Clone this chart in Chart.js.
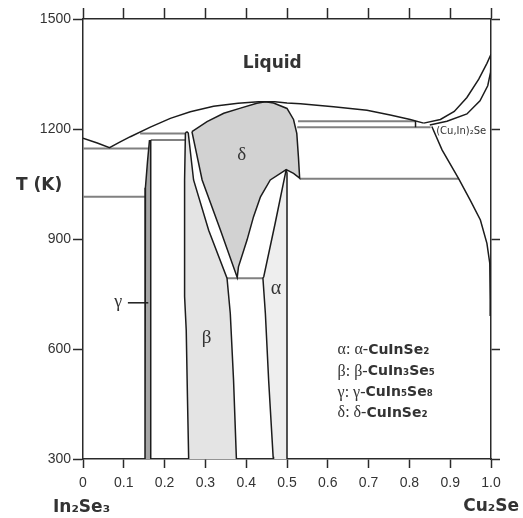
<!DOCTYPE html>
<html>
<head>
<meta charset="utf-8">
<title>In2Se3 - Cu2Se</title>
<script src="https://cdn.jsdelivr.net/npm/chart.js@4.4.1/dist/chart.umd.min.js"></script>
<style>
  html, body { margin: 0; padding: 0; background: #fff; }
</style>
</head>
<body>
<canvas id="phase" width="523" height="518"></canvas>
<script>
(function () {
    "use strict";

    // x = mole fraction Cu2Se, T in K
    var xTickLabels = ['0', '0.1', '0.2', '0.3', '0.4', '0.5', '0.6', '0.7', '0.8', '0.9', '1.0'];
    var yTickLabels = ['300', '600', '900', '1200', '1500'];

    // Liquidus from In2Se3 to the minimum near Cu2Se
    var liquidus = [[0, 1175], [0.035, 1162], [0.065, 1149], [0.09, 1164], [0.116, 1179], [0.165, 1205], [0.214, 1229],
        [0.263, 1247], [0.32, 1262], [0.38, 1270], [0.43, 1274], [0.47, 1274], [0.5, 1271], [0.533, 1269],
        [0.614, 1261], [0.696, 1251], [0.753, 1238], [0.802, 1226], [0.835, 1216]];
    var liquidusCu2Se = [[0.835, 1216], [0.876, 1226], [0.91, 1248], [0.941, 1286], [0.97, 1336], [0.99, 1379], [1.0, 1404]];
    var solidusCu2Se = [[0.85, 1211], [0.892, 1221], [0.941, 1241], [0.973, 1277], [0.992, 1318], [0.999, 1355], [1.0, 1404]];
    var solvusCu2Se = [[0.855, 1207], [0.88, 1143], [0.921, 1064], [0.949, 1006], [0.974, 952], [0.99, 888],
        [0.997, 834], [0.998, 734], [0.998, 690]];

    // delta: top edge, right edge and notch down to the alpha peak
    var deltaTop = [[0.267, 1193], [0.304, 1220], [0.345, 1243], [0.386, 1257], [0.426, 1270], [0.447, 1274],
        [0.467, 1271], [0.5, 1256], [0.516, 1226], [0.524, 1188], [0.528, 1124], [0.531, 1066], [0.516, 1079], [0.498, 1089]];
    var deltaRight = [[0.498, 1089], [0.459, 1061], [0.435, 1015], [0.418, 961], [0.402, 897], [0.381, 824], [0.378, 795]];
    var deltaLeft = [[0.378, 795], [0.337, 924], [0.292, 1061], [0.267, 1193]];

    var betaLeft = [[0.254, 1193], [0.251, 1188], [0.249, 1060], [0.249, 743], [0.253, 652], [0.256, 470], [0.259, 300]];
    var betaRight = [[0.254, 1193], [0.258, 1189], [0.271, 1061], [0.308, 924], [0.353, 793], [0.361, 697], [0.369, 515], [0.376, 300]];
    var alphaLeft = [[0.498, 1089], [0.471, 943], [0.443, 797], [0.441, 793], [0.447, 697], [0.455, 515], [0.466, 306], [0.467, 300]];
    var alphaRight = [[0.498, 1089], [0.5, 1080], [0.5, 300]];
    var gammaLeft = [[0.163, 1170], [0.158, 1110], [0.153, 1040], [0.152, 300]];
    var gammaRight = [[0.166, 1170], [0.166, 300]];

    // invariant (horizontal) lines
    var tieLines = [
        [[0.14, 1188], [0.251, 1188]],
        [[0.166, 1170], [0.251, 1170]],
        [[0, 1147], [0.163, 1147]],
        [[0, 1015], [0.153, 1015]],
        [[0.353, 793], [0.441, 793]],
        [[0.527, 1221], [0.815, 1221]],
        [[0.525, 1205], [0.852, 1205]],
        [[0.531, 1064], [0.921, 1064]]
    ];
    var peritecticMark = [[0.815, 1222], [0.815, 1205]];
    var gammaPointer = [[0.11, 726], [0.16, 726]];

    var lineColor = '#1c1c1c';
    var tieColor = '#808080';
    var textColor = '#333';

    function toXY(arr) {
        return arr.map(function (p) { return {x: p[0], y: p[1]}; });
    }

    // ring starting at the leftmost vertex, ending on the rightmost one,
    // so the filler's x-clip covers the whole shape
    function shapeData(poly) {
        var iMin = 0, iMax = 0;
        poly.forEach(function (p, i) {
            if (p[0] < poly[iMin][0]) iMin = i;
            if (p[0] > poly[iMax][0]) iMax = i;
        });
        var ring = poly.slice(iMin).concat(poly.slice(0, iMin + 1));
        ring.push(poly[iMax]);
        return toXY(ring);
    }

    function region(poly, color) {
        return {
            data: shapeData(poly),
            fill: 'shape',
            backgroundColor: color,
            borderWidth: 0,
            pointRadius: 0,
            tension: 0,
            order: 3
        };
    }

    function curve(arr, color, width, order) {
        return {
            data: toXY(arr),
            fill: false,
            borderColor: color,
            borderWidth: width,
            pointRadius: 0,
            tension: 0,
            order: order
        };
    }

    var deltaShape = deltaTop.concat(deltaRight.slice(1), deltaLeft.slice(1, -1));
    var betaShape = betaLeft.concat(betaRight.slice(1).reverse());
    var alphaShape = alphaLeft.concat(alphaRight.slice(1).reverse());
    var gammaShape = gammaLeft.concat(gammaRight.slice().reverse());

    var datasets = [
        region(deltaShape, '#d2d2d2'),
        region(betaShape, '#e4e4e4'),
        region(alphaShape, '#eeeeee'),
        region(gammaShape, '#a6a6a6')
    ];
    tieLines.forEach(function (seg) {
        datasets.push(curve(seg, tieColor, 2, 2));
    });
    [liquidus, liquidusCu2Se, solidusCu2Se, solvusCu2Se, deltaShape.concat([deltaShape[0]]),
        betaLeft, betaRight, alphaLeft, alphaRight, gammaLeft, gammaRight, peritecticMark, gammaPointer
    ].forEach(function (arr) {
        datasets.push(curve(arr, lineColor, 1.5, 1));
    });

    // text labels, placed in data units
    var phaseLabels = [
        {text: 'Liquid', x: 0.464, y: 1378, font: 'bold 17px "DejaVu Sans"'},
        {text: 'δ', x: 0.389, y: 1129, font: '19px "Liberation Serif"'},
        {text: 'β', x: 0.303, y: 630, font: '19px "Liberation Serif"'},
        {text: 'α', x: 0.473, y: 764, font: '20px "Liberation Serif"'},
        {text: 'γ', x: 0.0865, y: 728, font: '18px "Liberation Serif"'},
        {text: '(Cu,In)₂Se', x: 0.927, y: 1194, font: '10px "DejaVu Sans"'}
    ];
    var legendRows = [
        ['α: α-', 'CuInSe₂', 597],
        ['β: β-', 'CuIn₃Se₅', 538],
        ['γ: γ-', 'CuIn₅Se₈', 481],
        ['δ: δ-', 'CuInSe₂', 425]
    ];

    var textPlugin = {
        id: 'phaseText',
        afterDatasetsDraw: function (chart) {
            var ctx = chart.ctx;
            var xs = chart.scales.x, ys = chart.scales.y;
            ctx.save();
            ctx.fillStyle = textColor;
            ctx.textAlign = 'center';
            ctx.textBaseline = 'middle';
            phaseLabels.forEach(function (l) {
                ctx.font = l.font;
                ctx.fillText(l.text, xs.getPixelForValue(l.x), ys.getPixelForValue(l.y));
            });

            // legend
            ctx.textAlign = 'left';
            legendRows.forEach(function (row) {
                var px = xs.getPixelForValue(0.624), py = ys.getPixelForValue(row[2]);
                ctx.font = '16px "Liberation Serif"';
                ctx.fillText(row[0], px, py);
                px += ctx.measureText(row[0]).width;
                ctx.font = 'bold 14px "DejaVu Sans"';
                ctx.fillText(row[1], px, py);
            });

            // axis titles
            ctx.textBaseline = 'alphabetic';
            ctx.font = 'bold 17px "DejaVu Sans"';
            ctx.fillText('T (K)', 16, 190);
            ctx.fillText('In₂Se₃', 53, 512);
            ctx.textAlign = 'right';
            ctx.fillText('Cu₂Se', 519, 511);
            ctx.restore();
        }
    };

    var axisColor = '#2a2a2a';
    function frameAxis(position, size, tick, show, labels) {
        var horizontal = position === 'top' || position === 'bottom';
        return {
            type: 'linear',
            position: position,
            min: horizontal ? 0 : 300,
            max: horizontal ? 1 : 1500,
            border: {display: true, color: axisColor, width: 1.5},
            grid: {drawOnChartArea: false, drawTicks: true, tickLength: tick, tickColor: axisColor, tickWidth: 1.5},
            ticks: {
                display: show,
                stepSize: horizontal ? 0.1 : 300,
                color: '#333',
                padding: horizontal ? 7 : 2,
                font: {family: 'Liberation Sans', size: 14},
                callback: function (v, i) { return labels ? labels[i] : ''; }
            },
            afterFit: function (scale) {
                if (horizontal) scale.height = size; else scale.width = size;
            }
        };
    }

    new Chart(document.getElementById('phase'), {
        type: 'line',
        data: {datasets: datasets},
        options: {
            responsive: false,
            animation: false,
            layout: {padding: 0},
            plugins: {legend: {display: false}, tooltip: {enabled: false}},
            scales: {
                x: frameAxis('bottom', 59, 9, true, xTickLabels),
                x2: frameAxis('top', 19, 11, false, null),
                y: frameAxis('left', 83, 10, true, yTickLabels),
                y2: frameAxis('right', 32, 9, false, null)
            }
        },
        plugins: [textPlugin]
    });
})();
</script>
</body>
</html>
